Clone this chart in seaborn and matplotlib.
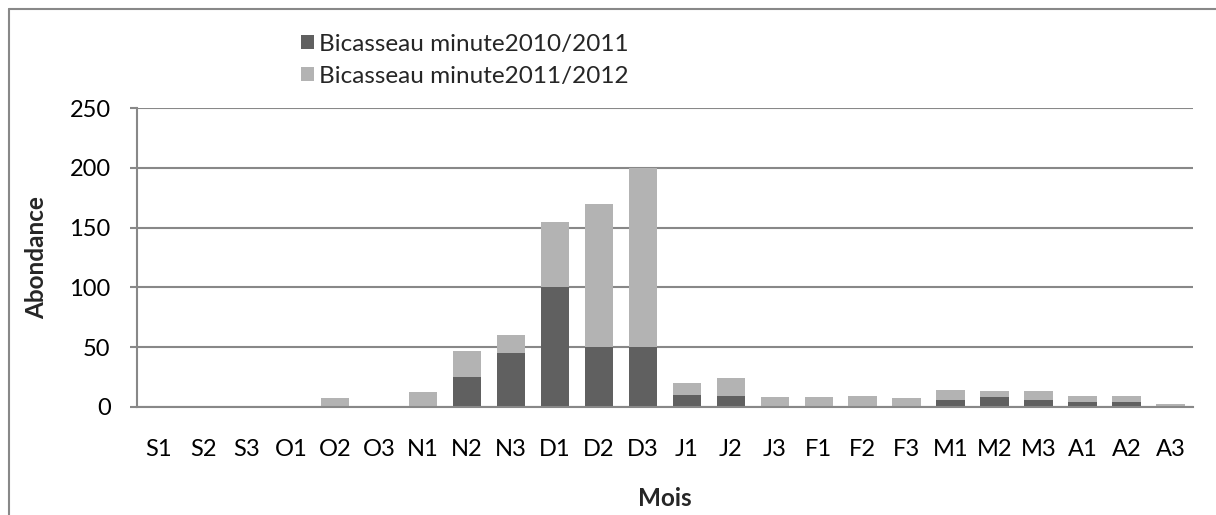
import numpy as np
import pandas as pd
import matplotlib
matplotlib.use("Agg")
import matplotlib.pyplot as plt
from matplotlib.patches import Rectangle
from matplotlib.lines import Line2D
import seaborn as sns

# Sampling periods (three decades per month, September to April)
periods = ["S1", "S2", "S3", "O1", "O2", "O3", "N1", "N2", "N3",
           "D1", "D2", "D3", "J1", "J2", "J3", "F1", "F2", "F3",
           "M1", "M2", "M3", "A1", "A2", "A3"]

# Little stint counts per season
season_2010_2011 = [0, 0, 0, 0, 0, 0, 0, 25, 45, 100, 50, 50,
                    10, 9, 0, 0, 0, 0, 6, 8, 6, 4, 4, 0]
season_2011_2012 = [0, 0, 0, 0, 7, 0, 12, 22, 15, 55, 120, 150,
                    10, 15, 8, 8, 9, 7, 8, 5, 7, 5, 5, 2]

label_a = "Bicasseau minute2010/2011"
label_b = "Bicasseau minute2011/2012"
y_ticks = [0, 50, 100, 150, 200, 250]

DARK = "#606060"
LIGHT = "#b3b3b3"
GRID = "#888888"
FS_TICK = 17
FS_TEXT = 17.5

sns.set_theme(style="white")
plt.rcParams["font.family"] = ["Lato", "DejaVu Sans"]

df = pd.DataFrame({
    "periode": periods,
    "a": season_2010_2011,
    "b": season_2011_2012,
})
df["total"] = df["a"] + df["b"]

W, H = 1216, 515
fig = plt.figure(figsize=(W / 100, H / 100), dpi=100)
ax = fig.add_axes([137 / W, 1 - 406.7 / H, (1192.7 - 137) / W, (406.7 - 108.3) / H])

# Stacked bars: full height in light grey, first season overlaid in dark grey
sns.barplot(data=df, x="periode", y="total", color=LIGHT, width=0.65,
            linewidth=0, saturation=1, ax=ax, zorder=3)
sns.barplot(data=df, x="periode", y="a", color=DARK, width=0.65,
            linewidth=0, saturation=1, ax=ax, zorder=4)

ax.set_xlim(-0.5, len(periods) - 0.5)
ax.set_ylim(0, 250)
ax.set_yticks(y_ticks)
ax.set_yticklabels([str(v) for v in y_ticks])
ax.yaxis.grid(True, color=GRID, linewidth=1.5, zorder=0)
ax.xaxis.grid(False)
ax.set_axisbelow(True)

for side in ["top", "right"]:
    ax.spines[side].set_visible(False)
for side in ["left", "bottom"]:
    ax.spines[side].set_color(GRID)
    ax.spines[side].set_linewidth(1.5)
    ax.spines[side].set_zorder(5)

# Category boundary ticks on x, outward ticks on y
ax.set_xticks(np.arange(-0.5, len(periods), 1.0), minor=True)
ax.tick_params(axis="x", which="minor", length=5, width=1.5, color=GRID, direction="out")
ax.tick_params(axis="x", which="major", length=0, pad=23, labelsize=FS_TICK, labelcolor="black")
ax.tick_params(axis="y", which="major", length=5, width=1.5, color=GRID, direction="out",
               pad=14, labelsize=FS_TICK, labelcolor="black", left=True)

ax.set_xlabel("")
ax.set_ylabel("")
fig.text(665 / W, 1 - 499 / H, "Mois", ha="center", va="center",
         fontsize=FS_TEXT, fontweight="bold")
fig.text(36.5 / W, 1 - 258 / H, "Abondance", ha="center", va="center",
         rotation=90, fontsize=FS_TEXT, fontweight="bold")

# Legend rows: square swatch followed by the series name
legend_rows = [(DARK, label_a, 42), (LIGHT, label_b, 74)]
for colour, text, yc in legend_rows:
    fig.patches.append(Rectangle(
        (301 / W, 1 - (yc + 7) / H), 13 / W, 14 / H,
        transform=fig.transFigure, facecolor=colour, edgecolor="none"))
    fig.text(319 / W, 1 - yc / H, text, ha="left", va="center_baseline",
             fontsize=FS_TEXT)

# Outer chart frame (left and top edges)
fig.add_artist(Line2D([9 / W, 9 / W], [0, 1 - 8.5 / H],
                      transform=fig.transFigure, color=GRID, linewidth=1.5))
fig.add_artist(Line2D([9 / W, 1], [1 - 8.5 / H, 1 - 8.5 / H],
                      transform=fig.transFigure, color=GRID, linewidth=1.5))

fig.savefig("out.png", dpi=100)
